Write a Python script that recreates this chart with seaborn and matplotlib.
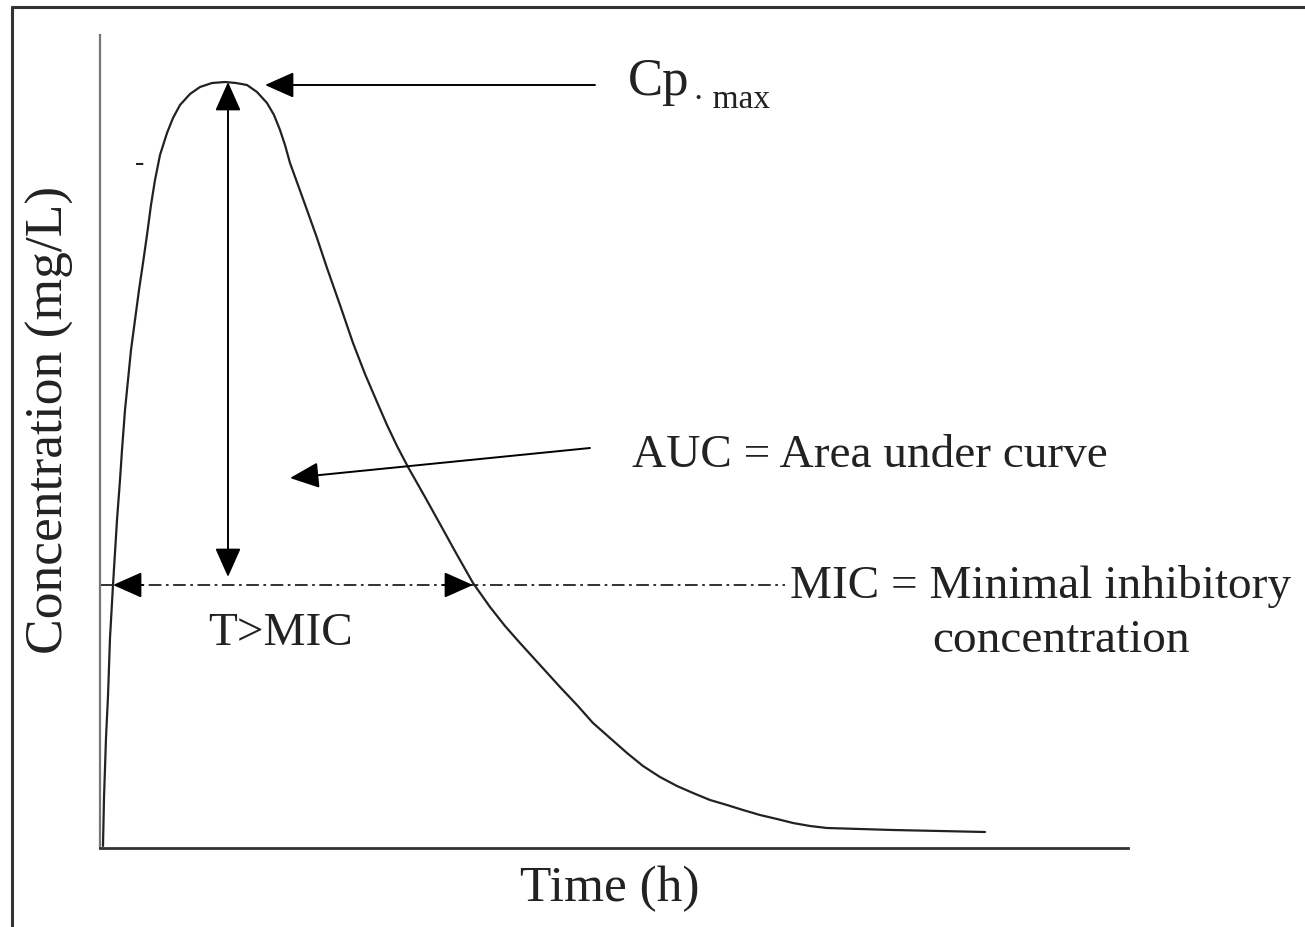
import matplotlib
matplotlib.use('Agg')
import matplotlib.pyplot as plt
import seaborn as sns
import pandas as pd
from matplotlib.lines import Line2D

# 약물 농도-시간 곡선 (값은 그림에서 읽은 것, 단위 임의)
time_h = [0.03, 0.04, 0.06, 0.08, 0.10, 0.13, 0.17, 0.20, 0.22, 0.25, 0.28,
          0.31, 0.35, 0.39, 0.43, 0.47, 0.51, 0.55, 0.60, 0.67, 0.73, 0.80,
          0.90, 1.00, 1.12, 1.25, 1.36, 1.47, 1.57, 1.67, 1.74, 1.80, 1.85,
          1.90, 1.98, 2.07, 2.17, 2.27, 2.40, 2.53, 2.65, 2.77, 2.87, 2.97,
          3.08, 3.25, 3.40, 3.56, 3.73, 3.90, 4.05, 4.20, 4.40, 4.60, 4.77,
          4.93, 5.10, 5.27, 5.43, 5.60, 5.77, 5.93, 6.10, 6.27, 6.43, 6.60,
          6.77, 6.93, 7.10, 7.27, 7.60, 7.93, 8.40, 8.85]
conc = [0.02, 0.50, 1.10, 1.52, 2.10, 2.63, 3.28, 3.68, 3.98, 4.38, 4.68,
        4.98, 5.28, 5.58, 5.85, 6.13, 6.43, 6.68, 6.93, 7.15, 7.30, 7.43,
        7.54, 7.61, 7.65, 7.66, 7.65, 7.63, 7.56, 7.45, 7.33, 7.18, 7.03,
        6.85, 6.63, 6.38, 6.10, 5.80, 5.43, 5.05, 4.74, 4.46, 4.23, 4.02,
        3.81, 3.51, 3.24, 2.95, 2.65, 2.41, 2.22, 2.05, 1.83, 1.61, 1.43,
        1.25, 1.10, 0.95, 0.82, 0.71, 0.62, 0.55, 0.48, 0.43, 0.38, 0.33,
        0.29, 0.25, 0.22, 0.20, 0.19, 0.18, 0.17, 0.16]

mic = 2.63          # MIC 수준
cmax_t = 1.28       # 최고 농도 시점
cmax = 7.66
t_above_start = 0.13
t_above_end = 3.73

df = pd.DataFrame({'time': time_h, 'conc': conc})

sns.set_theme(style='white')
plt.rcParams['font.family'] = ['Liberation Serif', 'DejaVu Serif']

fig = plt.figure(figsize=(13.05, 9.27), dpi=100)
ax = fig.add_axes([100 / 1305, 79 / 927, 1028 / 1305, 813 / 927])

sns.lineplot(data=df, x='time', y='conc', ax=ax, color='#222222',
             linewidth=1.6, estimator=None, sort=False)

ax.set_xlim(0, 10.28)
ax.set_ylim(0, 8.13)
ax.set_xticks([])
ax.set_yticks([])
for s in ['top', 'right']:
    ax.spines[s].set_visible(False)
ax.spines['left'].set_color('#777777')
ax.spines['left'].set_linewidth(1.6)
ax.spines['bottom'].set_color('#333333')
ax.spines['bottom'].set_linewidth(2.0)

fs = 34
ax.set_xlabel('Time (h)', fontsize=37, color='#222222', ha='center', va='center')
ax.xaxis.set_label_coords(0.496, -0.050)
ax.set_ylabel('Concentration (mg/L)', fontsize=38.5, color='#222222', ha='center', va='center')
ax.yaxis.set_label_coords(-0.049, 0.526)

# MIC 점선
ax.plot([0, 6.85], [mic, mic], color='#222222', linewidth=1.3,
        linestyle=(0, (7, 2.5, 1.5, 2.5)))

arrow_kw = dict(arrowstyle='-|>,head_length=0.9,head_width=0.4', color='black',
                lw=1.4, shrinkA=0, shrinkB=0, mutation_scale=20)

# Cmax 수직 양방향 화살표
ax.annotate('', xy=(cmax_t, cmax), xytext=(cmax_t, mic + 0.08),
            arrowprops=dict(arrow_kw, arrowstyle='<|-|>,head_length=0.9,head_width=0.4'))

# T>MIC 화살표 머리 (선은 점선 그대로)
ax.annotate('', xy=(t_above_start, mic), xytext=(t_above_start + 0.3, mic), arrowprops=arrow_kw)
ax.annotate('', xy=(t_above_end, mic), xytext=(t_above_end - 0.3, mic), arrowprops=arrow_kw)

# 설명 화살표
ax.annotate('', xy=(1.65, 7.63), xytext=(4.95, 7.63), arrowprops=arrow_kw)
ax.annotate('', xy=(1.90, 3.70), xytext=(4.90, 4.00), arrowprops=arrow_kw)

tc = '#222222'
ax.text(5.28, 7.53, 'Cp', fontsize=38, color=tc, va='baseline')
ax.text(5.93, 7.40, '· max', fontsize=24, color=tc, va='baseline')
ax.text(5.32, 3.81, 'AUC = Area under curve', fontsize=fs, color=tc, va='baseline')
ax.text(6.90, 2.50, 'MIC = Minimal inhibitory', fontsize=fs, color=tc, va='baseline')
ax.text(8.32, 1.96, 'concentration', fontsize=fs, color=tc, va='baseline')
ax.text(1.08, 2.03, 'T>MIC', fontsize=fs, color=tc, va='baseline')
ax.text(0.40, 6.85, '-', fontsize=20, color=tc, ha='center', va='center')

# 바깥 테두리 (위, 왼쪽)
fig.add_artist(Line2D([12 / 1305, 1.0], [1 - 7 / 927, 1 - 7 / 927], color='#333333', lw=2.2))
fig.add_artist(Line2D([12 / 1305, 12 / 1305], [0, 1 - 7 / 927], color='#333333', lw=2.2))

fig.savefig('out.png', dpi=100)
